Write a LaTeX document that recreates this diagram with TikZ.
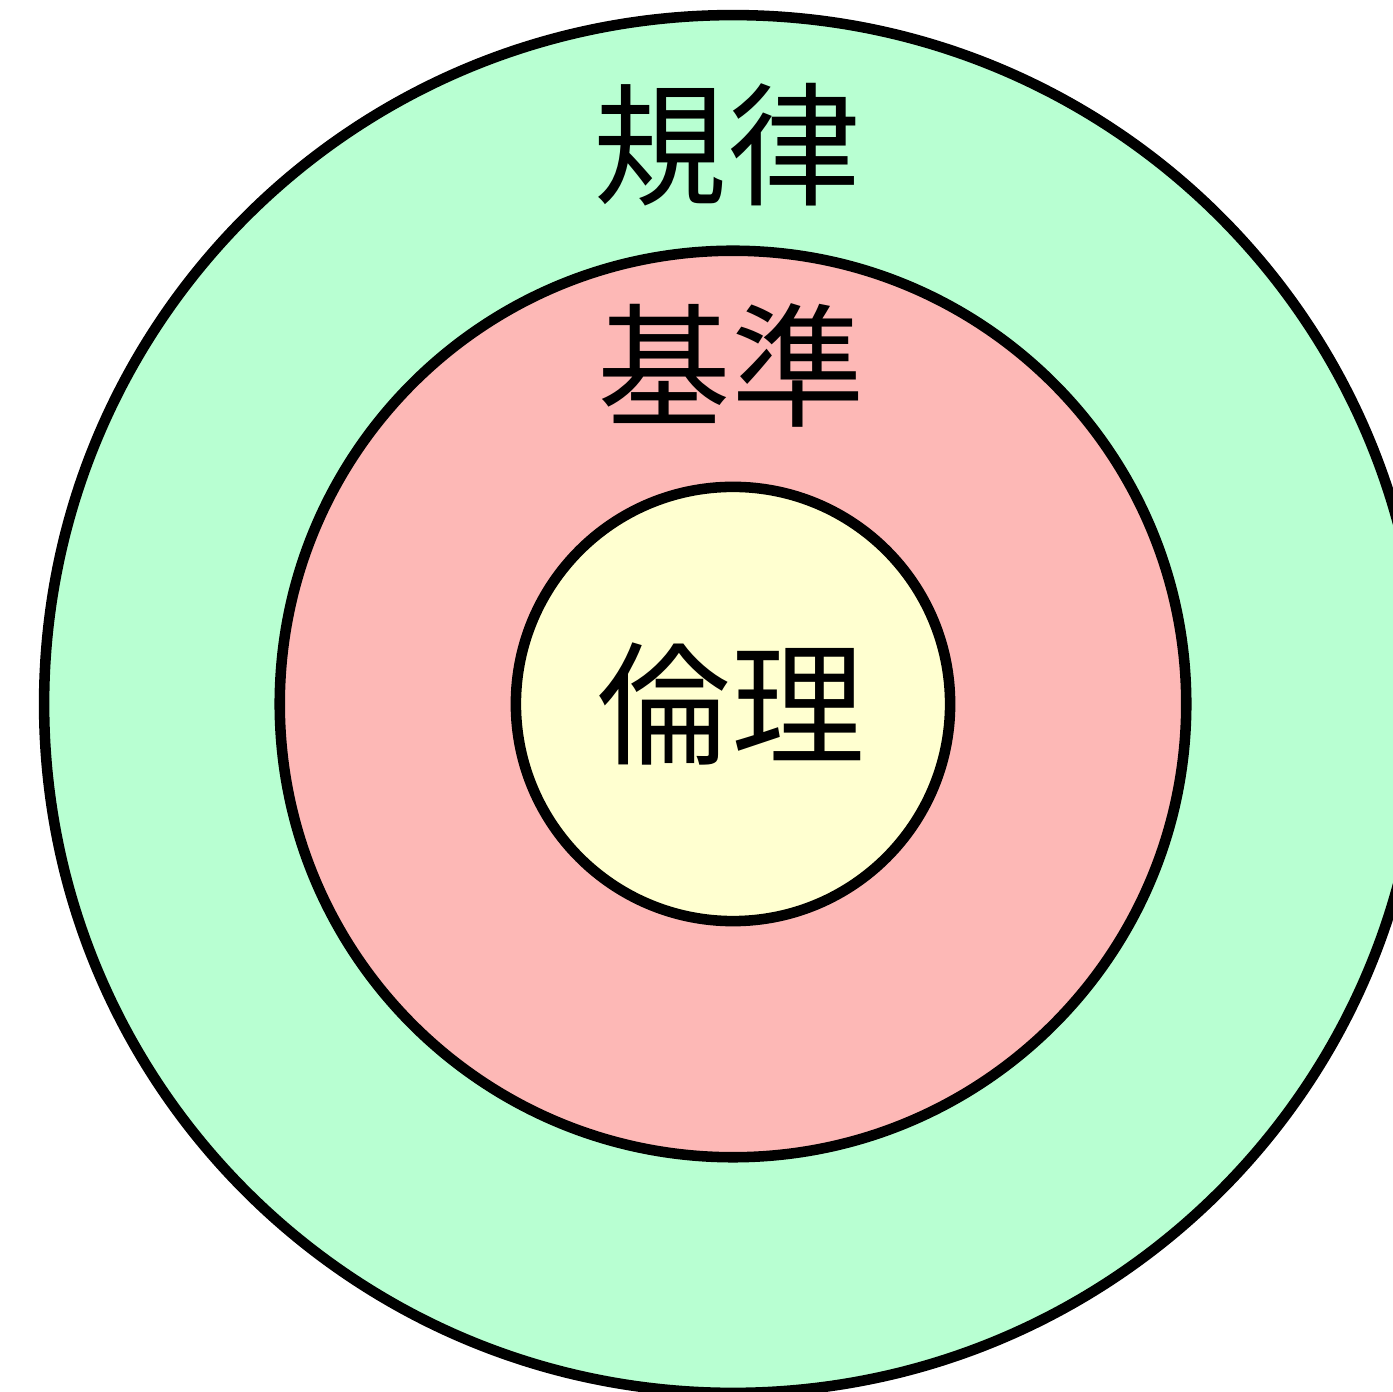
\documentclass[tikz,border=0pt]{standalone}
\usepackage{fontspec}
\newfontfamily\cjk{Noto Sans CJK JP}
\usepackage{xcolor}
\definecolor{ringgreen}{HTML}{B8FFD2}
\definecolor{ringpink}{HTML}{FDB8B6}
\definecolor{ringyellow}{HTML}{FFFFD0}
\begin{document}
\begin{tikzpicture}[
    x=.01cm,y=-.01cm,
    ring/.style={circle,draw=black,line width=3pt,inner sep=0pt},
    lbl/.style={font=\cjk\fontsize{38}{38}\selectfont,inner sep=0pt}
  ]
    \useasboundingbox (0,0) rectangle (1393,1392);
    \clip (0,0) rectangle (1393,1392);
    \node[ring,fill=ringgreen,minimum size=13.77cm] (rule) at (733,704) {};
    \node[ring,fill=ringpink,minimum size=9.06cm] (norm) at (733,704) {};
    \node[ring,fill=ringyellow,minimum size=4.34cm] (ethic) at (733,704) {};
    \node[lbl] (tRule) at (727,145) {規律};
    \node[lbl] (tNorm) at (731,365) {基準};
    \node[lbl] (tEthic) at (731,704) {倫理};
  \end{tikzpicture}
\end{document}
